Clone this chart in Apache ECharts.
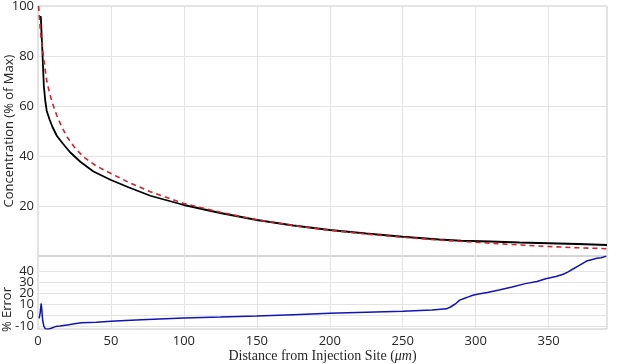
<!DOCTYPE html>
<html>
<head>
<meta charset="utf-8">
<script src="https://cdn.jsdelivr.net/npm/echarts@6/dist/echarts.min.js"></script>
<style>
  html, body { margin: 0; padding: 0; background: #fff; }
  #main { width: 617px; height: 364px; }
</style>
</head>
<body>
<div id="main"></div>
<script>
// measured concentration (black)
var simDist = [1.8, 2, 2.5, 3, 3.5, 4, 5, 6, 8, 10, 13, 17, 22, 29, 38, 50, 62, 77, 100, 125, 150, 175, 200, 225, 250, 275, 290, 310, 330, 350, 370, 390];
var simConc = [96, 95, 88, 82, 75, 68, 62, 58, 54.5, 51.5, 48, 45, 41.5, 37.7, 33.8, 30.4, 27.5, 24.1, 20.4, 17.2, 14.4, 12.2, 10.4, 9.0, 7.7, 6.6, 6.1, 5.8, 5.4, 5.1, 4.8, 4.4];

// fitted curve (red dashed)
var fitDist = [0.4, 1, 2, 3, 4, 6, 8, 10, 13, 16, 20, 25, 31, 40, 50, 62, 77, 100, 125, 150, 175, 200, 225, 250, 275, 300, 325, 350, 370, 390];
var fitConc = [100, 95, 88, 83, 78.5, 70, 65, 61, 56, 52, 47.5, 43.5, 39.7, 36, 33, 29.5, 25.7, 21, 17.5, 14.5, 12.2, 10.3, 8.8, 7.5, 6.4, 5.5, 4.6, 3.8, 3.3, 2.9];

// percent error (blue)
var errDist = [0.8, 1.5, 2.2, 2.6, 3.2, 4, 5, 6, 7, 8, 9, 10, 12, 15, 20, 25, 30, 40, 50, 60, 75, 100, 125, 150, 175, 200, 225, 250, 270, 280, 283, 286, 289, 292, 295, 298, 302, 308, 316, 325, 334, 342, 348, 355, 360, 363, 367, 371, 376, 380, 383, 386, 389.5];
var errVal = [-3, 2, 10.5, 5, -5, -10, -12.5, -12, -12.8, -11.5, -12, -11, -10.5, -10, -9, -8, -7, -6.5, -5.7, -5, -4, -2.6, -1.8, -0.9, 0.3, 1.5, 2.5, 3.5, 4.5, 5.6, 7.5, 10, 13.5, 15, 16.5, 18, 19, 20.5, 22.7, 25.5, 28.5, 30.5, 33, 35, 37, 39, 42, 45, 49, 50.5, 51.5, 52, 53.5];

var xTicks = [0, 50, 100, 150, 200, 250, 300, 350];
var concTicks = [20, 40, 60, 80, 100];
var errTicks = [-10, 0, 10, 20, 30, 40];
var errLabelsA = [-10, 10, 30];
var errLabelsB = [0, 20, 40];

function pairs(xs, ys) {
  var out = [];
  for (var i = 0; i < xs.length; i++) out.push([xs[i], ys[i]]);
  return out;
}

var chart = echarts.init(document.getElementById('main'));
var gridCol = '#e3e3e3';
var boxCol = '#c8c8c8';
var lblStyle = { color: '#262626', fontSize: 13, fontFamily: 'Open Sans', showMinLabel: true, showMaxLabel: true };

var option = {
  backgroundColor: '#ffffff',
  animation: false,
  grid: [
    { left: 38, right: 10, top: 6, height: 250, show: true, borderColor: boxCol, borderWidth: 1, outerBoundsMode: 'none', containLabel: false },
    { left: 38, right: 10, top: 256, height: 73, show: true, borderColor: boxCol, borderWidth: 1, outerBoundsMode: 'none', containLabel: false }
  ],
  xAxis: [
    {
      type: 'value', gridIndex: 0, min: 0, max: 390,
      axisLine: { show: false }, axisTick: { show: false, customValues: xTicks },
      axisLabel: { show: false, customValues: xTicks },
      splitLine: { show: true, lineStyle: { color: gridCol } }
    },
    {
      type: 'value', gridIndex: 1, min: 0, max: 390,
      axisLine: { show: false }, axisTick: { show: false, customValues: xTicks },
      axisLabel: Object.assign({ margin: 6, customValues: xTicks }, lblStyle),
      splitLine: { show: true, lineStyle: { color: gridCol } },
      name: 'Distance from Injection Site ({i|μm})',
      nameLocation: 'middle', nameGap: 20, nameMoveOverlap: false,
      nameTextStyle: {
        color: '#262626', fontSize: 14, fontFamily: 'Liberation Serif',
        rich: { i: { fontStyle: 'italic', fontSize: 14, fontFamily: 'Liberation Serif', color: '#262626' } }
      }
    }
  ],
  yAxis: [
    {
      type: 'value', gridIndex: 0, min: 0, max: 100,
      axisLine: { show: false }, axisTick: { show: false, customValues: concTicks },
      axisLabel: Object.assign({ margin: 4, customValues: concTicks }, lblStyle),
      splitLine: { show: true, lineStyle: { color: gridCol } },
      name: 'Concentration (% of Max)', nameLocation: 'middle', nameGap: 22, nameMoveOverlap: false,
      nameTextStyle: { color: '#262626', fontSize: 13, fontFamily: 'Open Sans' }
    },
    {
      type: 'value', gridIndex: 1, position: 'left', min: -12.7, max: 53.6,
      axisLine: { show: false }, axisTick: { show: false, customValues: errTicks },
      axisLabel: { show: false, customValues: errTicks },
      splitLine: { show: true, lineStyle: { color: gridCol } }
    },
    {
      type: 'value', gridIndex: 1, position: 'left', offset: 0, min: -12.7, max: 53.6,
      axisLine: { show: false }, axisTick: { show: false, customValues: errLabelsA },
      axisLabel: Object.assign({ margin: 4, customValues: errLabelsA }, lblStyle),
      splitLine: { show: false }
    },
    {
      type: 'value', gridIndex: 1, position: 'left', offset: 0, min: -12.7, max: 53.6,
      axisLine: { show: false }, axisTick: { show: false, customValues: errLabelsB },
      axisLabel: Object.assign({ margin: 4, customValues: errLabelsB }, lblStyle),
      splitLine: { show: false }
    }
  ],
  graphic: [
    {
      type: 'text', left: 1, top: 287, rotation: Math.PI / 2,
      style: { text: '% Error', fill: '#262626', font: '13px "Open Sans"' }
    }
  ],
  series: [
    {
      type: 'line', xAxisIndex: 0, yAxisIndex: 0, showSymbol: false,
      data: pairs(simDist, simConc),
      lineStyle: { color: '#000000', width: 1.8 }, z: 3
    },
    {
      type: 'line', xAxisIndex: 0, yAxisIndex: 0, showSymbol: false,
      data: pairs(fitDist, fitConc),
      lineStyle: { color: '#d2222d', width: 1.6, type: [5, 4] }, z: 4
    },
    {
      type: 'line', xAxisIndex: 1, yAxisIndex: 1, showSymbol: false,
      data: pairs(errDist, errVal),
      lineStyle: { color: '#1414b4', width: 1.5 }, z: 3
    }
  ]
};

chart.setOption(option);
</script>
</body>
</html>
